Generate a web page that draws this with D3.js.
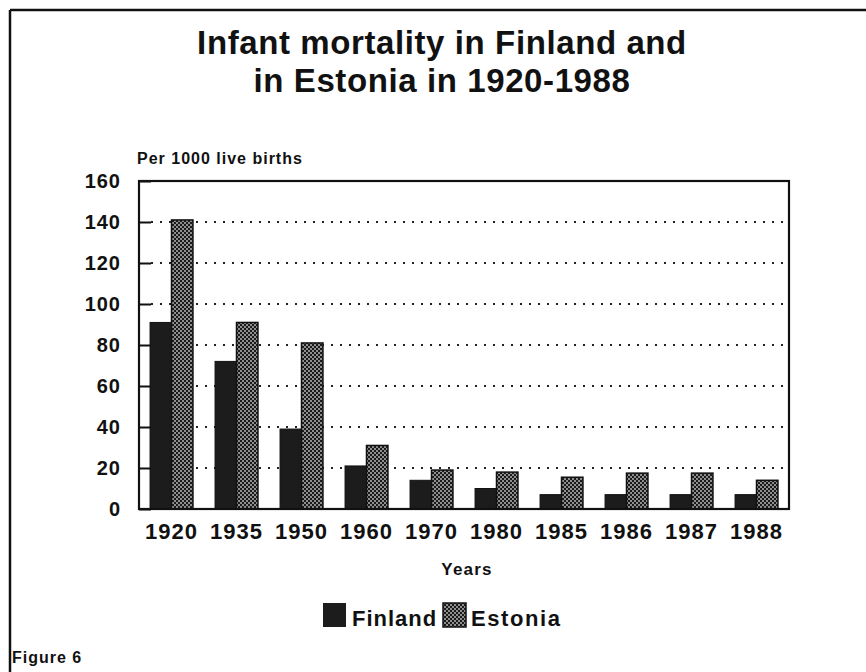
<!DOCTYPE html>
<html><head><meta charset="utf-8">
<script src="https://cdn.jsdelivr.net/npm/d3@7"></script>
<style>html,body{margin:0;padding:0;background:#fff;} svg{display:block;}</style>
</head><body>
<script>
const years = ["1920","1935","1950","1960","1970","1980","1985","1986","1987","1988"];
const finland = [91, 72, 39, 21, 14, 10, 7, 7, 7, 7];
const estonia = [141, 91, 81, 31, 19, 18, 15.5, 17.5, 17.5, 14];
const yTicks = [0, 20, 40, 60, 80, 100, 120, 140, 160];
const seriesNames = ["Finland", "Estonia"];
const titleLines = ["Infant mortality in Finland and", "in Estonia in 1920-1988"];

const W = 866, H = 672;
const FONT = "'Liberation Sans', Arial, Helvetica, sans-serif";
const svg = d3.select("body").append("svg").attr("width", W).attr("height", H)
  .style("font-family", FONT).style("font-weight", "bold").attr("fill", "#111");

const defs = svg.append("defs");
const pat = defs.append("pattern").attr("id", "check").attr("patternUnits", "userSpaceOnUse")
  .attr("width", 4).attr("height", 4);
pat.append("rect").attr("width", 4).attr("height", 4).attr("fill", "#8e8e8e");
pat.append("rect").attr("x", 0).attr("y", 0).attr("width", 2).attr("height", 2).attr("fill", "#1a1a1a");
pat.append("rect").attr("x", 2).attr("y", 2).attr("width", 2).attr("height", 2).attr("fill", "#1a1a1a");

// outer frame
svg.append("line").attr("x1", 10).attr("y1", 10).attr("x2", W).attr("y2", 10).attr("stroke", "#111").attr("stroke-width", 2.5);
svg.append("line").attr("x1", 10).attr("y1", 10).attr("x2", 10).attr("y2", H).attr("stroke", "#111").attr("stroke-width", 2.5);

const m = {left: 139, right: 789, top: 181, bottom: 509};
const x = d3.scaleBand().domain(years).range([m.left, m.right]).paddingInner(0.34).paddingOuter(0.17);
const xs = d3.scaleBand().domain(seriesNames).range([0, x.bandwidth()]);
const y = d3.scaleLinear().domain([0, 160]).range([m.bottom, m.top]);

// title
svg.append("text").attr("text-anchor", "middle").style("font-size", "33px").style("letter-spacing", "0.6px")
  .selectAll("tspan").data(titleLines).join("tspan")
  .attr("x", 442).attr("y", (d, i) => 54 + i * 38).text(d => d);

svg.append("text").attr("x", 137).attr("y", 164).style("font-size", "16px").style("letter-spacing", "1px").text("Per 1000 live births");

// gridlines
svg.append("g").selectAll("line").data(yTicks.filter(t => t > 0 && t < 160)).join("line")
  .attr("x1", m.left + 12).attr("x2", m.right).attr("y1", d => y(d)).attr("y2", d => y(d))
  .attr("stroke", "#222").attr("stroke-width", 2.2).attr("stroke-dasharray", "2,7");

// y axis
const yAxis = svg.append("g").attr("transform", `translate(${m.left},0)`)
  .call(d3.axisLeft(y).tickValues(yTicks).tickSizeInner(-12).tickSizeOuter(0).tickPadding(18));
yAxis.select(".domain").remove();
yAxis.selectAll("line").attr("stroke", "#111").attr("stroke-width", 2);
yAxis.selectAll("text").style("font-size", "20px").style("letter-spacing", "1px").style("font-family", FONT).style("font-weight", "bold").attr("fill", "#111");

// bars
const g = svg.append("g");
years.forEach((yr, i) => {
  g.append("rect").attr("x", x(yr) + xs("Finland")).attr("y", y(finland[i]))
    .attr("width", xs.bandwidth()).attr("height", y(0) - y(finland[i]))
    .attr("fill", "#1c1c1c").attr("stroke", "#111").attr("stroke-width", 1);
  g.append("rect").attr("x", x(yr) + xs("Estonia")).attr("y", y(estonia[i]))
    .attr("width", xs.bandwidth()).attr("height", y(0) - y(estonia[i]))
    .attr("fill", "url(#check)").attr("stroke", "#111").attr("stroke-width", 1.5);
});

// plot box
svg.append("rect").attr("x", m.left).attr("y", m.top).attr("width", m.right - m.left).attr("height", m.bottom - m.top)
  .attr("fill", "none").attr("stroke", "#111").attr("stroke-width", 2.2);

// x axis labels
const xAxis = svg.append("g").attr("transform", `translate(0,${m.bottom})`)
  .call(d3.axisBottom(x).tickSize(0).tickPadding(14));
xAxis.select(".domain").remove();
xAxis.selectAll("text").style("font-size", "22px").style("letter-spacing", "1px").style("font-family", FONT).style("font-weight", "bold").attr("fill", "#111");

svg.append("text").attr("x", 467).attr("y", 575).attr("text-anchor", "middle").style("font-size", "17px").style("letter-spacing", "1.2px").text("Years");

// legend
const lg = svg.append("g");
lg.append("rect").attr("x", 323).attr("y", 603).attr("width", 23).attr("height", 24).attr("fill", "#1c1c1c");
lg.append("text").attr("x", 352).attr("y", 626).style("font-size", "22px").style("letter-spacing", "1px").text(seriesNames[0]);
lg.append("rect").attr("x", 443).attr("y", 603).attr("width", 23).attr("height", 24).attr("fill", "url(#check)").attr("stroke", "#111").attr("stroke-width", 1.5);
lg.append("text").attr("x", 471).attr("y", 626).style("font-size", "22px").style("letter-spacing", "1.6px").text(seriesNames[1]);

svg.append("text").attr("x", 12).attr("y", 663).style("font-size", "16px").style("letter-spacing", "1px").text("Figure 6");
</script>
</body></html>
